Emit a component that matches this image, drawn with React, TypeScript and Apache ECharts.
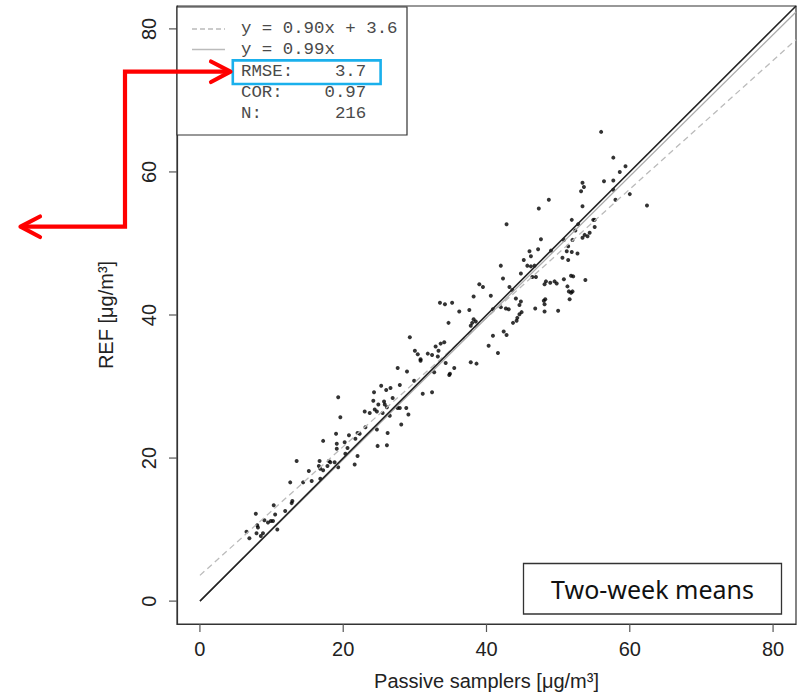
import React, { useEffect, useRef } from "react";
import * as echarts from "echarts";

// Passive sampler (x) and reference (y) two-week means, µg/m³
const passiveX: number[] = [
  21.7, 17.2, 20.2, 19.1, 24.8, 26.1, 19.1, 20.6, 20.3, 22.0, 13.5, 16.7, 18.0, 18.2, 18.8, 16.6, 16.8, 17.2, 17.8, 19.3,
  21.6, 15.2, 16.8, 15.6, 14.4, 12.6, 12.9, 12.8, 10.3, 11.9, 7.8, 10.5, 9.0, 9.5, 9.9, 10.2, 8.0, 8.1, 10.8, 6.5,
  7.9, 8.8, 8.5, 6.9,
  29.3, 30.0, 30.4, 30.8, 30.8, 34.3, 35.5, 27.6, 28.9, 34.9, 34.8, 32.7, 29.9, 27.9, 25.3, 26.6, 26.0, 24.3, 31.1, 32.4,
  26.9, 19.3, 24.2, 25.7, 25.8, 24.9, 26.1, 24.4, 24.7, 23.0, 23.7, 27.6, 27.9, 28.8, 25.5, 29.1, 26.5, 19.6, 28.1, 24.7,
  19.0, 20.8, 22.0, 22.3, 26.2, 23.1,
  33.5, 34.2, 35.2, 36.2, 34.7, 39.0, 39.5, 38.2, 40.6, 40.9, 37.6, 38.2, 38.5, 38.0, 37.8, 40.9, 40.3, 41.6, 32.9, 33.6,
  34.1, 33.3, 31.8, 32.4, 33.2, 42.0, 42.7, 43.1, 44.9, 44.6, 46.8, 48.1, 50.0, 44.3, 44.2, 43.7, 42.4, 42.8, 37.8, 38.6,
  56.0, 57.7, 59.4, 58.6, 53.4, 53.6, 53.2, 56.4, 57.7, 57.7, 58.0, 60.0, 62.4, 48.7, 47.3, 53.4, 42.8, 51.9, 54.9, 55.1,
  52.8, 55.1, 52.4, 54.4, 53.7, 54.1, 53.4, 47.6, 50.8, 47.2, 49.0, 51.4, 51.2, 51.9, 52.7, 50.6, 51.4, 46.0, 46.2, 45.2,
  45.7, 46.2, 46.7, 42.0, 42.3, 46.4, 46.9, 44.8, 43.6, 43.2, 48.3, 48.9, 49.5, 49.8, 48.1, 50.8, 51.8, 52.1, 53.8, 51.3,
  51.5, 51.8, 52.0, 51.6, 48.2, 48.0, 48.1, 44.8, 44.6, 44.1, 52.0,
];
const refY: number[] = [
  22.7, 22.4, 22.2, 22.0, 21.7, 21.8, 21.3, 21.4, 20.6, 20.3, 19.6, 19.6, 19.6, 19.4, 19.4, 18.9, 18.5, 18.3, 18.9, 18.7,
  19.1, 18.2, 17.1, 16.8, 16.6, 16.6, 14.0, 13.7, 13.4, 12.6, 12.2, 12.1, 11.3, 11.0, 11.2, 11.2, 10.6, 10.3, 10.0, 9.7,
  9.5, 9.5, 9.1, 8.8,
  36.9, 35.0, 34.5, 33.8, 33.6, 33.3, 32.6, 32.6, 32.1, 31.8, 31.6, 32.0, 30.8, 30.2, 30.1, 29.8, 29.5, 29.2, 29.0, 29.2,
  28.4, 28.5, 28.0, 27.9, 27.5, 27.5, 27.1, 26.8, 26.5, 26.5, 26.3, 27.0, 27.0, 27.0, 26.3, 26.1, 25.9, 25.7, 24.7, 24.0,
  23.4, 23.2, 23.5, 23.4, 23.5, 24.3,
  41.7, 41.5, 41.7, 40.5, 38.9, 44.3, 43.9, 42.6, 42.7, 40.8, 40.7, 39.4, 39.1, 38.9, 38.5, 37.1, 35.7, 34.7, 35.6, 36.0,
  36.2, 35.0, 34.6, 34.4, 34.2, 41.1, 40.9, 40.8, 40.4, 40.1, 40.9, 40.5, 40.6, 39.6, 39.2, 38.9, 37.7, 37.2, 33.4, 33.2,
  65.6, 62.0, 60.8, 60.0, 58.5, 57.9, 57.3, 58.7, 58.8, 57.5, 56.1, 56.9, 55.3, 56.1, 54.9, 55.2, 52.7, 53.3, 53.3, 53.3,
  52.7, 52.3, 51.8, 51.5, 51.2, 51.0, 50.8, 50.6, 50.5, 49.2, 49.0, 49.6, 48.9, 48.8, 48.6, 48.0, 47.7, 48.9, 48.2, 47.7,
  46.9, 46.8, 46.9, 46.9, 45.1, 45.3, 45.3, 45.8, 43.5, 43.9, 44.7, 44.5, 44.7, 44.4, 44.3, 45.0, 45.5, 45.4, 44.9, 44.0,
  43.3, 43.1, 43.3, 42.2, 42.2, 42.0, 41.5, 41.9, 41.4, 42.3, 50.5,
];

// Fit coefficients and statistics (legend)
const fitSlope = 0.9;
const fitIntercept = 3.6;
const originSlope = 0.99;
const statLabels = ["RMSE:", "COR:", "N:"];
const statValues = ["3.7", "0.97", "216"];

// Axes: plotting range (R-style 4% extension) and tick values
const axisMin = -3.2;
const axisMax = 83.2;
const tickValues = [0, 20, 40, 60, 80];

const MONO = "'Liberation Mono', 'DejaVu Sans Mono', monospace";
const SANS = "'Liberation Sans', Arial, sans-serif";
const TICK_LEN = 8;

function padStat(label: string, value: string, width = 12) {
  const spaces = Math.max(1, width - label.length - value.length);
  return label + " ".repeat(spaces) + value;
}

export default function App() {
  const ref = useRef<HTMLDivElement>(null);

  useEffect(() => {
    if (!ref.current) return;
    const chart = echarts.init(ref.current, undefined, { renderer: "svg" });

    const points = passiveX.map((x, i) => [x, refY[i]]);
    const line = (a: number, b: number) => [
      [0, b],
      [axisMax, a * axisMax + b],
    ];

    const axisCommon = (name: string, isY: boolean) => ({
      type: "value" as const,
      min: axisMin,
      max: axisMax,
      name,
      nameLocation: "middle" as const,
      nameGap: isY ? 61 : 47,
      nameTextStyle: { fontFamily: SANS, fontSize: 20, color: "#222" },
      axisLine: { show: true, onZero: false, lineStyle: { color: "#333", width: 1.2 } },
      axisTick: { show: false },
      axisLabel: {
        customValues: tickValues,
        fontFamily: SANS,
        fontSize: 20,
        color: "#222",
        margin: isY ? 18 : 15,
        rotate: isY ? 90 : 0,
      },
      splitLine: { show: false },
    });

    const legendTextX = 241;
    const legendRowY = (i: number) => 28.5 + 21.3 * i;
    const monoFont = `17.4px ${MONO}`;
    const graphics: any[] = [
      // legend box
      {
        type: "rect",
        z: 100,
        shape: { x: 177, y: 7, width: 230, height: 128 },
        style: { fill: "#fff", stroke: "#333", lineWidth: 1.2 },
      },
      {
        type: "line",
        z: 101,
        shape: { x1: 192, y1: 29, x2: 225, y2: 29 },
        style: { stroke: "#bbb", lineWidth: 1.3, lineDash: [5, 3] },
      },
      {
        type: "line",
        z: 101,
        shape: { x1: 192, y1: 49.5, x2: 225, y2: 49.5 },
        style: { stroke: "#bbb", lineWidth: 1.3 },
      },
      {
        type: "text",
        z: 101,
        x: legendTextX,
        y: legendRowY(0),
        style: {
          text: `y = ${fitSlope.toFixed(2)}x + ${fitIntercept.toFixed(1)}`,
          font: monoFont,
          fill: "#4a4a4a",
          verticalAlign: "middle",
        },
      },
      {
        type: "text",
        z: 101,
        x: legendTextX,
        y: legendRowY(1),
        style: {
          text: `y = ${originSlope.toFixed(2)}x`,
          font: monoFont,
          fill: "#4a4a4a",
          verticalAlign: "middle",
        },
      },
      ...statLabels.map((lab, i) => ({
        type: "text",
        z: 101,
        x: legendTextX,
        y: legendRowY(2 + i),
        style: {
          text: padStat(lab, statValues[i]),
          font: monoFont,
          fill: "#4a4a4a",
          verticalAlign: "middle",
        },
      })),
      // blue highlight around RMSE
      {
        type: "rect",
        z: 102,
        shape: { x: 232.8, y: 60.4, width: 147.8, height: 23.6 },
        style: { fill: "none", stroke: "#1ab0ec", lineWidth: 2.6 },
      },
      // red arrows
      {
        type: "polyline",
        z: 103,
        shape: { points: [[229, 71.7], [125, 71.7], [125, 226.7], [22, 226.7]] },
        style: { stroke: "#ff0000", lineWidth: 4.2, fill: "none", lineJoin: "miter" },
      },
      {
        type: "polyline",
        z: 103,
        shape: { points: [[211, 61.5], [230.5, 71.7], [211, 82]] },
        style: { stroke: "#ff0000", lineWidth: 4.2, fill: "none", lineCap: "round", lineJoin: "round" },
      },
      {
        type: "polyline",
        z: 103,
        shape: { points: [[40, 216.5], [20.5, 226.7], [40, 237]] },
        style: { stroke: "#ff0000", lineWidth: 4.2, fill: "none", lineCap: "round", lineJoin: "round" },
      },
      // "Two-week means" box
      {
        type: "rect",
        z: 100,
        shape: { x: 523.5, y: 563.5, width: 258, height: 50.5 },
        style: { fill: "#fff", stroke: "#333", lineWidth: 1.3 },
      },
      {
        type: "text",
        z: 101,
        x: 652.5,
        y: 589,
        style: {
          text: "Two-week means",
          font: `25px 'Noto Sans', 'Open Sans', sans-serif`,
          fill: "#111",
          align: "center",
          verticalAlign: "middle",
        },
      },
    ];

    chart.setOption({
      animation: false,
      backgroundColor: "#fff",
      grid: {
        left: 177,
        top: 6,
        right: 2,
        bottom: 70,
        show: true,
        borderColor: "#333",
        borderWidth: 1.2,
        backgroundColor: "transparent",
      },
      xAxis: axisCommon("Passive samplers [μg/m³]", false),
      yAxis: axisCommon("REF [μg/m³]", true),
      series: [
        {
          type: "scatter",
          data: points,
          symbol: "circle",
          symbolSize: 4,
          itemStyle: { color: "#000" },
          z: 3,
        },
        {
          type: "line",
          data: line(fitSlope, fitIntercept),
          symbol: "none",
          clip: true,
          lineStyle: { color: "#bbb", width: 1.3, type: [6, 4] },
          z: 4,
        },
        {
          type: "line",
          data: line(originSlope, 0),
          symbol: "none",
          clip: true,
          lineStyle: { color: "#aaa", width: 1.3 },
          z: 4,
        },
        {
          type: "line",
          data: line(1, 0),
          symbol: "none",
          clip: true,
          lineStyle: { color: "#222", width: 1.6 },
          z: 5,
        },
      ],
      graphic: graphics,
    });

    // Tick marks placed through the axes' own scales (convertToPixel)
    const tickGraphics: any[] = [];
    tickValues.forEach((v) => {
      const px = chart.convertToPixel({ gridIndex: 0 }, [v, axisMin]) as number[];
      if (px && isFinite(px[0]) && isFinite(px[1])) {
        tickGraphics.push({
          type: "line",
          z: 50,
          shape: { x1: px[0], y1: px[1], x2: px[0], y2: px[1] + TICK_LEN },
          style: { stroke: "#555", lineWidth: 1.2 },
        });
      }
      const py = chart.convertToPixel({ gridIndex: 0 }, [axisMin, v]) as number[];
      if (py && isFinite(py[0]) && isFinite(py[1])) {
        tickGraphics.push({
          type: "line",
          z: 50,
          shape: { x1: py[0] - TICK_LEN, y1: py[1], x2: py[0], y2: py[1] },
          style: { stroke: "#555", lineWidth: 1.2 },
        });
      }
    });
    if (tickGraphics.length) {
      chart.setOption({ graphic: [...graphics, ...tickGraphics] });
    }

    return () => chart.dispose();
  }, []);

  return (
    <div
      ref={ref}
      style={{ position: "fixed", left: 0, top: 0, width: 798, height: 696 }}
    />
  );
}
